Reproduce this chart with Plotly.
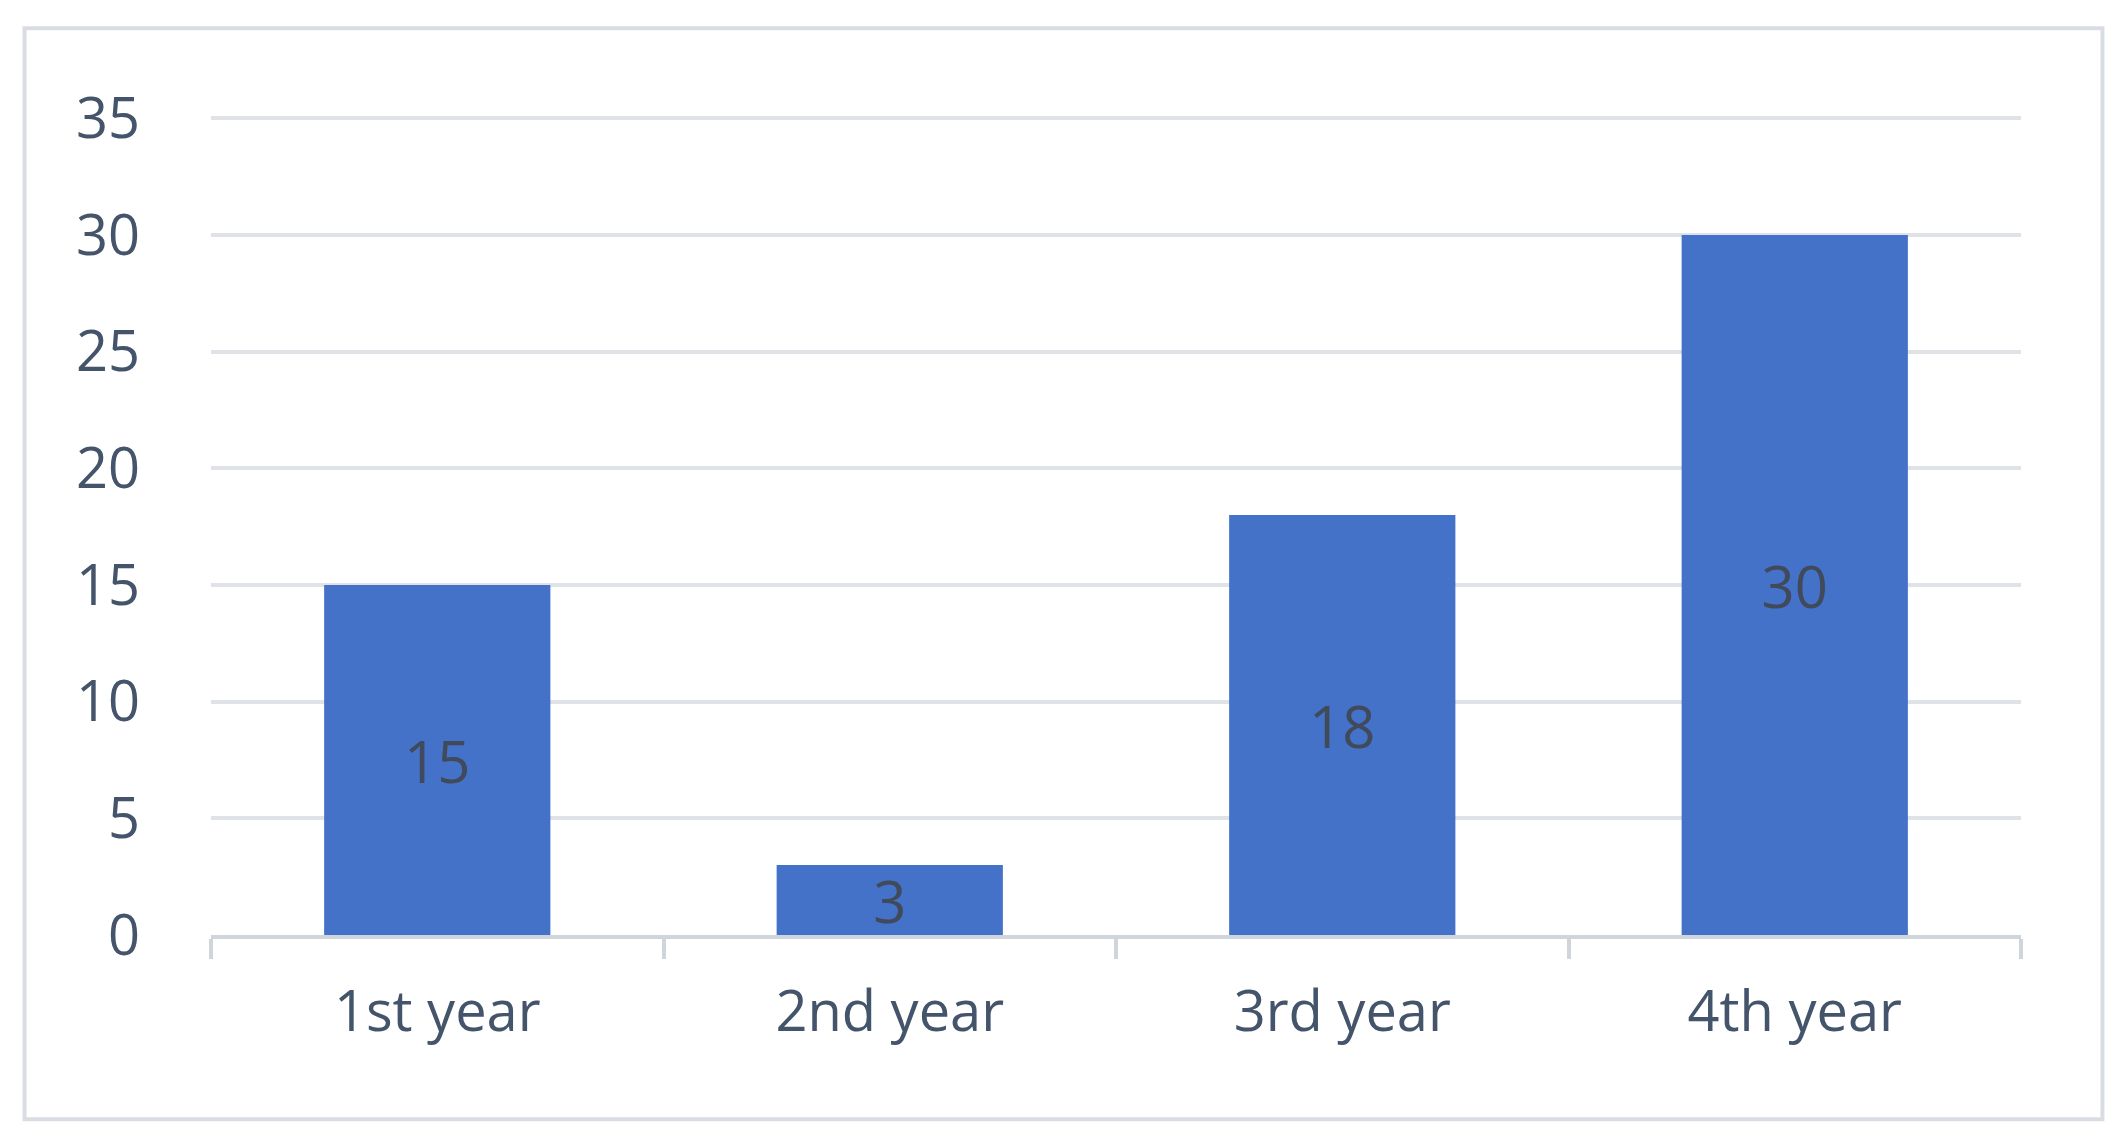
import plotly.graph_objects as go

categories = ["1st year", "2nd year", "3rd year", "4th year"]
values = [15, 3, 18, 30]
labels = ["15", "3", "18", "30"]

fig = go.Figure(go.Bar(
    x=categories, y=values, width=0.5,
    marker=dict(color="#4472c8", line=dict(width=0)),
    text=labels, textposition="inside", insidetextanchor="middle",
    textangle=0, constraintext="none",
    textfont=dict(size=58, color="#404a5a", family="Open Sans"),
))
fig.update_layout(
    width=2119, height=1133,
    margin=dict(l=203, r=106, t=108, b=206),
    paper_bgcolor="white", plot_bgcolor="white",
    showlegend=False,
    font=dict(family="Open Sans", color="#44546a", size=56),
    shapes=[dict(type="rect", xref="paper", yref="paper",
                 x0=-0.103, x1=1.045, y0=-0.225, y1=1.107,
                 line=dict(color="#d9dde3", width=4))],
)
fig.update_xaxes(showline=True, linecolor="#d0d5dc", linewidth=4,
                 ticks="outside", tickson="boundaries", ticklen=20,
                 tickcolor="#d0d5dc", tickwidth=4, showgrid=False,
                 ticklabelstandoff=25,
                 tickfont=dict(size=56, color="#44546a"))
fig.update_yaxes(range=[0, 35.1], tickvals=[0, 5, 10, 15, 20, 25, 30, 35],
                 showgrid=True, gridcolor="#dfe2e6",
                 gridwidth=4, zeroline=False, ticks="", ticklabelstandoff=70,
                 tickfont=dict(size=56, color="#44546a"))
fig.write_html("out.html")
